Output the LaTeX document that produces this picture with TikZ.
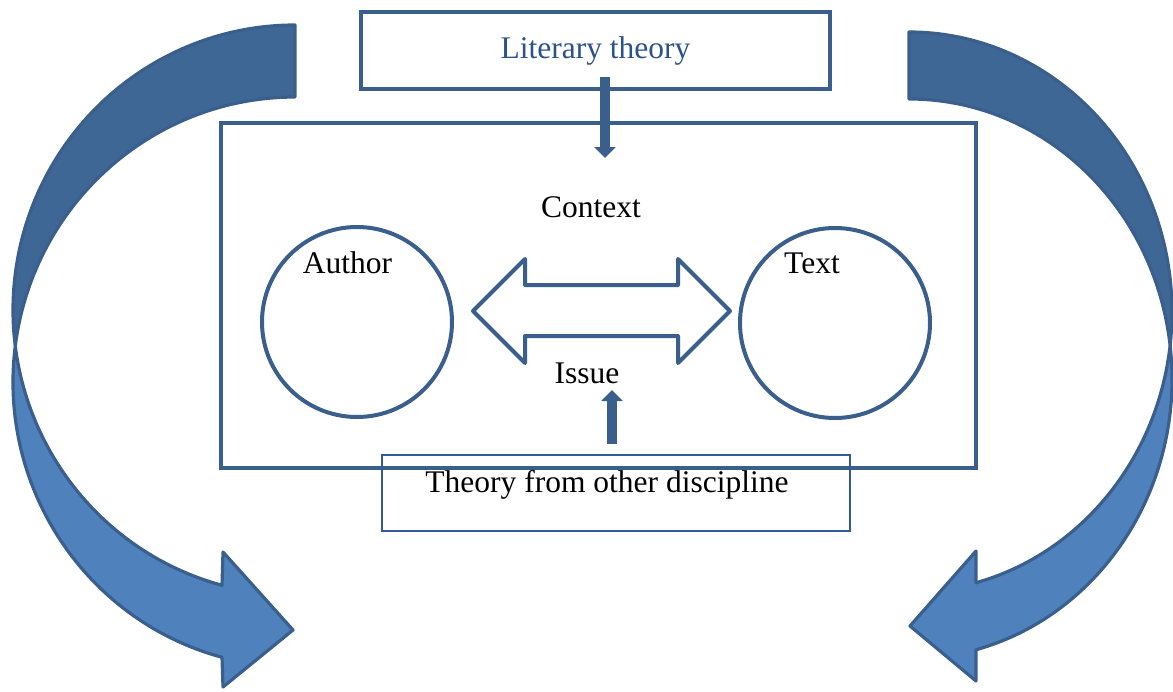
\documentclass[tikz,border=0pt]{standalone}
\usepackage{fontspec}
\setmainfont{Liberation Serif}
\usepackage{xcolor}
\usepackage{tikz}
\usetikzlibrary{arrows.meta,positioning,calc}

\definecolor{edgeblue}{HTML}{3A5F8D}
\definecolor{backblue}{HTML}{3F6795}
\definecolor{frontblue}{HTML}{4F81BD}
\definecolor{titleblue}{HTML}{2B528A}
\definecolor{thinblue}{HTML}{34589A}

\begin{document}
\begin{tikzpicture}[
  x=1pt, y=1pt,
  font=\fontsize{31.5}{36}\selectfont,
  box/.style={draw=edgeblue, line width=4pt, inner sep=0pt},
  thinbox/.style={draw=thinblue, line width=1.8pt, inner sep=0pt},
  ring/.style={circle, draw=edgeblue, line width=4pt, minimum size=190pt, inner sep=0pt},
  backpart/.style={fill=backblue, draw=edgeblue, line width=3.2pt, line join=round},
  frontpart/.style={fill=frontblue, draw=edgeblue, line width=3.2pt, line join=round},
  fatarrow/.style={-{Triangle[width=21pt,length=11pt]}, line width=10pt, draw=edgeblue},
]
\useasboundingbox (0,0) rectangle (1173,-691);

% --- Left: curved arrow ---
\coordinate (la) at (295,-310);
\coordinate (lb) at (295,-382);
\draw[backpart] (295,-25) arc[start angle=90, end angle=187.26, x radius=282pt, y radius=285pt]
  arc[start angle=172.74, end angle=90, x radius=282pt, y radius=285pt] -- cycle;
\draw[frontpart] ($(lb)+(172.74:282pt and 285pt)$)
  arc[start angle=172.74, end angle=255, x radius=282pt, y radius=285pt]
  -- (223,-687) -- (293,-630) -- (223,-552) -- ($(la)+(255:282pt and 285pt)$)
  arc[start angle=255, end angle=187.26, x radius=282pt, y radius=285pt] -- cycle;

% --- Right: curved arrow ---
\coordinate (ra) at (909,-312);
\coordinate (rb) at (909,-379);
\draw[backpart] (909,-32) arc[start angle=90, end angle=-6.87, x radius=263pt, y radius=280pt]
  arc[start angle=6.87, end angle=90, x radius=263pt, y radius=280pt] -- cycle;
\draw[frontpart] ($(rb)+(6.87:263pt and 280pt)$)
  arc[start angle=6.87, end angle=-75.24, x radius=263pt, y radius=280pt]
  -- (976,-681) -- (910,-626) -- (976,-551) -- ($(ra)+(-75.24:263pt and 280pt)$)
  arc[start angle=-75.24, end angle=-6.87, x radius=263pt, y radius=280pt] -- cycle;

% --- Frame with author and text ---
\node[box, minimum width=755pt, minimum height=345pt] (frame) at (598.5,-295.5) {};
\node[ring] (authorc) at (357,-322) {};
\node[ring] (textc) at (835,-323) {};
\node[anchor=base] (author) at (347.5,-273) {Author};
\node[anchor=base] (text) at (812,-273) {Text};
\node[anchor=base] (context) at (591,-217) {Context};
\node[anchor=base] (issue) at (587,-383) {Issue};

% --- Double arrow between the circles ---
\coordinate (mid) at (601.5,-311);
\draw[draw=edgeblue, fill=white, line width=4pt, line join=round]
  ($(mid)+(-128.5,0)$) -- ++(52,52) -- ++(0,-26) -- ++(153,0) -- ++(0,26) -- ++(52,-52)
  -- ++(-52,-52) -- ++(0,27) -- ++(-153,0) -- ++(0,-27) -- cycle;

% --- Top: literary theory ---
\node[box, minimum width=469pt, minimum height=77pt, text=titleblue] (lit) at (595.5,-50.5) {Literary theory};
\coordinate (littip) at (605,-158);
\draw[fatarrow] ($(lit.south)+(9.5,14)$) -- (littip);

% --- Bottom: other discipline ---
\node[thinbox, minimum width=468pt, minimum height=76pt] (other) at (616,-493) {};
\node[anchor=base] (othertext) at (607,-492) {Theory from other discipline};
\coordinate (issuetip) at (612,-390);
\draw[fatarrow] ($(other.north)+(-4,10)$) -- (issuetip);

\end{tikzpicture}
\end{document}
